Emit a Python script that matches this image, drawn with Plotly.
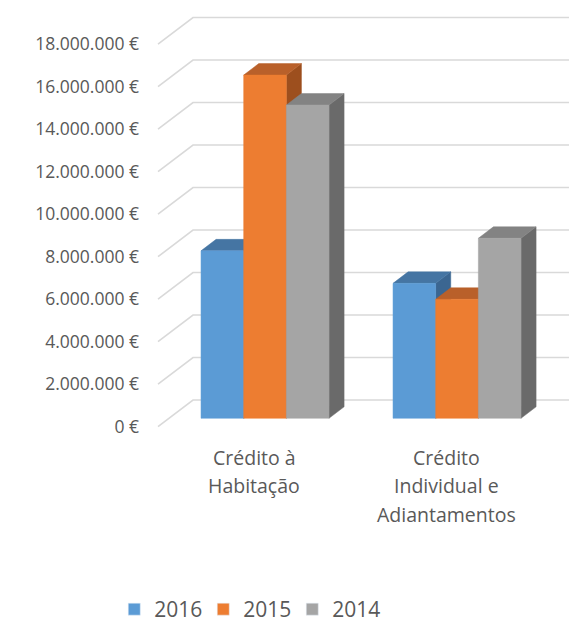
import plotly.graph_objects as go

# ---- data -------------------------------------------------------------
CATEGORIES = ["Crédito à<br>Habitação", "Crédito<br>Individual e<br>Adiantamentos"]
SERIES = ["2016", "2015", "2014"]
VALUES_2016 = [7_880_000, 6_350_000]
VALUES_2015 = [16_150_000, 5_600_000]
VALUES_2014 = [14_740_000, 8_470_000]
TICK_VALUES = [0, 2_000_000, 4_000_000, 6_000_000, 8_000_000,
               10_000_000, 12_000_000, 14_000_000, 16_000_000, 18_000_000]
TICK_LABELS = ["0 €", "2.000.000 €", "4.000.000 €", "6.000.000 €", "8.000.000 €",
               "10.000.000 €", "12.000.000 €", "14.000.000 €", "16.000.000 €",
               "18.000.000 €"]

# ---- styling ----------------------------------------------------------
# (front, top, side) colours for each series
FACE_COLORS = {
    "2016": ("#5B9BD5", "#4575A3", "#3B6691"),
    "2015": ("#ED7D31", "#B9602A", "#9D4F1E"),
    "2014": ("#A5A5A5", "#838383", "#6A6A6A"),
}
TEXT_COLOR = "#595959"
GRID_COLOR = "#D9D9D9"
FONT = "Open Sans"

W, H = 569, 619
MARGIN_L = 140
PX_PER_CAT = 192.0          # horizontal pixels per category step
PX_PER_EUR = 21.25 / 1e6    # vertical pixels per euro
ORIGIN_X_PX = 254.0         # pixel x of first category on the front plane
ORIGIN_Y_PX = 426.7         # pixel y of value 0 on the front plane

# oblique depth projection (full depth = front plane -> back wall)
DEPTH_DX = 35.0 / PX_PER_CAT        # category units
DEPTH_DY = 26.7 / PX_PER_EUR        # euros
BAR_FRONT = 0.315                   # depth of bar front faces
BAR_BACK = 0.745                    # depth of bar back faces
BAR_WIDTH = 2.0 / 9.0               # category units (50 % gap)


def proj(x, y, d):
    return x + d * DEPTH_DX, y + d * DEPTH_DY


fig = go.Figure()

# back-wall gridlines plus their diagonal floor-side segments
gx, gy = [], []
for v in TICK_VALUES:
    x0, y0 = proj(-0.5, v, 0.0)
    x1, y1 = proj(-0.5, v, 1.0)
    x2, y2 = proj(len(CATEGORIES) + 0.5, v, 1.0)
    gx += [x0, x1, x2, None]
    gy += [y0, y1, y2, None]
fig.add_trace(go.Scatter(x=gx, y=gy, mode="lines",
                         line=dict(color=GRID_COLOR, width=1.6),
                         hoverinfo="skip", showlegend=False))


def poly(points, color, name):
    xs = [p[0] for p in points] + [points[0][0]]
    ys = [p[1] for p in points] + [points[0][1]]
    fig.add_trace(go.Scatter(x=xs, y=ys, mode="lines", fill="toself",
                             fillcolor=color, line=dict(color=color, width=0.5),
                             name=name, legendgroup=name, showlegend=False,
                             hoverinfo="skip"))


series_values = [VALUES_2016, VALUES_2015, VALUES_2014]
for ci in range(len(CATEGORIES)):
    for si, name in enumerate(SERIES):
        v = series_values[si][ci]
        front, top, side = FACE_COLORS[name]
        xl = ci + (si - 1.5) * BAR_WIDTH
        xr = xl + BAR_WIDTH
        # right side face
        poly([proj(xr, 0, BAR_FRONT), proj(xr, 0, BAR_BACK),
              proj(xr, v, BAR_BACK), proj(xr, v, BAR_FRONT)], side, name)
        # top face
        poly([proj(xl, v, BAR_FRONT), proj(xr, v, BAR_FRONT),
              proj(xr, v, BAR_BACK), proj(xl, v, BAR_BACK)], top, name)
        # front face
        poly([proj(xl, 0, BAR_FRONT), proj(xr, 0, BAR_FRONT),
              proj(xr, v, BAR_FRONT), proj(xl, v, BAR_FRONT)], front, name)

# legend entries
for name in SERIES:
    fig.add_trace(go.Bar(x=[None], y=[None], name=name, legendgroup=name,
                         marker=dict(color=FACE_COLORS[name][0]),
                         showlegend=True))

# category labels, one annotation per line
LINE_STEP = 28.5
for ci, cat in enumerate(CATEGORIES):
    for li, line in enumerate(cat.split("<br>")):
        fig.add_annotation(x=ci, y=0, xref="x", yref="y", text=line,
                           showarrow=False, xanchor="center", yanchor="middle",
                           yshift=-(30.3 + li * LINE_STEP),
                           font=dict(family=FONT, size=19.5, color=TEXT_COLOR))

x_min = -(ORIGIN_X_PX - MARGIN_L) / PX_PER_CAT
x_max = (W - ORIGIN_X_PX) / PX_PER_CAT
y_min = -(H - ORIGIN_Y_PX) / PX_PER_EUR
y_max = ORIGIN_Y_PX / PX_PER_EUR

fig.update_layout(
    width=W, height=H,
    margin=dict(l=MARGIN_L, r=0, t=0, b=0, autoexpand=False),
    paper_bgcolor="white", plot_bgcolor="white",
    font=dict(family=FONT, color=TEXT_COLOR, size=17.5),
    xaxis=dict(type="linear", range=[x_min, x_max], showgrid=False,
               zeroline=False, showticklabels=False, fixedrange=True),
    yaxis=dict(type="linear", range=[y_min, y_max], showgrid=False,
               zeroline=False, tickmode="array", tickvals=TICK_VALUES,
               ticktext=TICK_LABELS, ticks="", showline=False,
               tickfont=dict(family=FONT, size=17.5, color=TEXT_COLOR)),
    legend=dict(orientation="h", x=-0.06, xanchor="left",
                y=(H - 609.5) / H, yanchor="middle",
                font=dict(family=FONT, size=21, color=TEXT_COLOR),
                entrywidth=44, bgcolor="rgba(0,0,0,0)"),
    showlegend=True,
)

fig.write_html("out.html")
